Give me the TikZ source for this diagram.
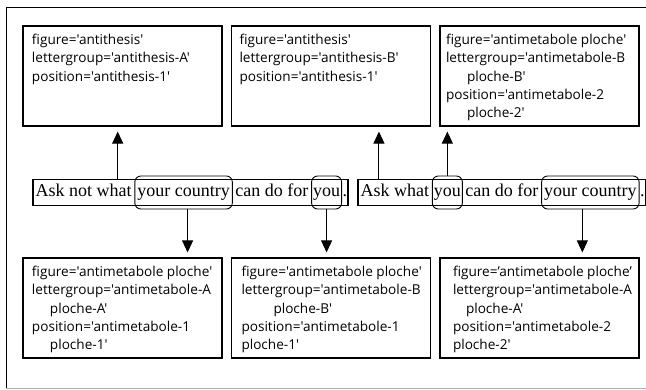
\documentclass[tikz,border=0pt]{standalone}
\usepackage{fontspec}
\setmainfont{Liberation Serif}
\newfontfamily\attrfont[Ligatures=TeXOff]{Open Sans}
\usetikzlibrary{positioning,arrows.meta}

\newcommand{\attrtext}[2][9pt]{\hspace*{#1}\parbox[t][84pt][t]{\dimexpr199pt-#1\relax}{\raggedright\attrfont\fontsize{13.6}{18.3}\selectfont #2}}

\tikzset{
  attr/.style={draw, line width=1.2pt, inner xsep=0pt, inner ysep=7pt, minimum width=199pt, minimum height=100pt},
  word/.style={inner xsep=2.5pt, inner ysep=0pt, text height=13pt, text depth=4.5pt, minimum height=25pt, font=\fontsize{18}{20}\selectfont},
  marked/.style={word, draw, line width=0.9pt, rounded corners=6pt, minimum height=33pt},
  sentence/.style={draw, line width=1.3pt},
  link/.style={-{Triangle[length=12pt,width=11pt]}, line width=0.9pt, shorten >=5pt}
}

\begin{document}
\begin{tikzpicture}[x=1pt,y=-1pt]
		\useasboundingbox (0,0) rectangle (646,390);
		\draw (646,7) -- (6,7) -- (6,388);
		\draw[gray!60] (6,388) -- (646,388);

		% figure boxes above the sentence
		\draw (122.5,76) node [attr] (t1) {\attrtext{figure='antithesis'\\lettergroup='antithesis-A'\\position='antithesis-1'}};
		\draw (331,76) node [attr] (t2) {\attrtext[8pt]{figure='antithesis'\\lettergroup='antithesis-B'\\position='antithesis-1'}};
		\draw (539.5,76) node [attr] (t3) {\attrtext[6pt]{figure='antimetabole ploche'\\lettergroup='antimetabole-B\\\hspace*{21pt}ploche-B'\\position='antimetabole-2\\\hspace*{21pt}ploche-2'}};

		% figure boxes below the sentence
		\draw (122.5,308) node [attr] (b1) {\attrtext{figure='antimetabole ploche'\\lettergroup='antimetabole-A\\\hspace*{18pt}ploche-A'\\position='antimetabole-1\\\hspace*{18pt}ploche-1'}};
		\draw (331,308) node [attr] (b2) {\attrtext[10pt]{figure='antimetabole ploche'\\lettergroup='antimetabole-B\\\hspace*{32pt}ploche-B'\\position='antimetabole-1\\ploche-1'}};
		\draw (539.5,308) node [attr] (b3) {\attrtext[13pt]{figure=’antimetabole ploche’\\lettergroup='antimetabole-A\\\hspace*{13pt}ploche-A'\\position='antimetabole-2\\ploche-2'}};

		% the sentence
		\node [word, anchor=west] (s1a) at (33,192.5) {Ask not what};
		\node [marked, right=0pt of s1a] (s1b) {your country};
		\node [word, right=0pt of s1b] (s1c) {can do for};
		\node [marked, right=0pt of s1c, inner xsep=1.5pt] (s1d) {you};
		\node [word, right=0pt of s1d, inner xsep=0.5pt] (s1e) {.};
		\draw [sentence] (s1a.north west) rectangle (s1a.south -| s1e.east);

		\node [word, anchor=west] (s2a) at (358,192.5) {Ask what};
		\node [marked, right=0pt of s2a, inner xsep=1.5pt] (s2b) {you};
		\node [word, right=0pt of s2b] (s2c) {can do for};
		\node [marked, right=0pt of s2c] (s2d) {your country};
		\node [word, right=0pt of s2d, inner xsep=0.5pt] (s2e) {.};
		\draw [sentence] (s2a.north west) rectangle (s2a.south -| s2e.east);

		\draw [link] ([xshift=34pt]s1a.north) -- ([xshift=34pt]s1a.north |- t1.south);
		\draw [link] ([xshift=-16pt]s2a.north) -- ([xshift=-16pt]s2a.north |- t2.south);
		\draw [link] (s2b.north) -- (s2b.north |- t3.south);

		\draw [link] ([xshift=4pt]s1b.south) -- ([xshift=4pt]s1b.south |- b1.north);
		\draw [link] (s1d.south) -- (s1d.south |- b2.north);
		\draw [link] ([xshift=-8pt]s2d.south) -- ([xshift=-8pt]s2d.south |- b3.north);
	\end{tikzpicture}
\end{document}
